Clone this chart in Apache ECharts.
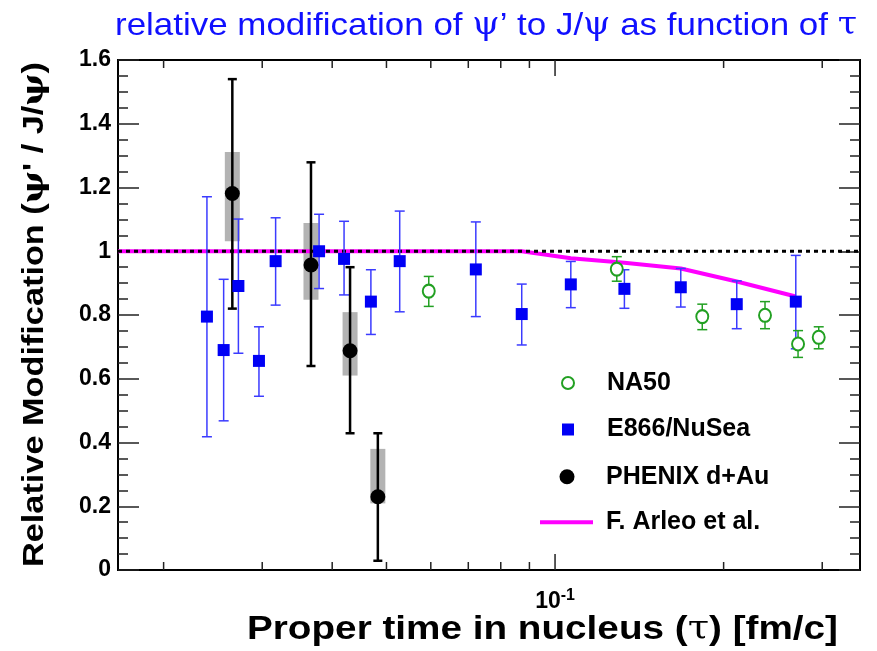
<!DOCTYPE html>
<html>
<head>
<meta charset="utf-8">
<script src="https://cdn.jsdelivr.net/npm/echarts@6/dist/echarts.min.js"></script>
<style>
  html, body { margin: 0; padding: 0; background: #fff; }
  #chart { width: 877px; height: 651px; }
</style>
</head>
<body>
<div id="chart"></div>
<script>
// Axis ranges
const TAU_MIN = 0.01658;
const TAU_MAX = 0.3504;
const RATIO_MIN = 0;
const RATIO_MAX = 1.6;

// Log-axis tick values (minor: 2..9 per decade, major: decades)
const xMinorTicks = [0.02, 0.03, 0.04, 0.05, 0.06, 0.07, 0.08, 0.09, 0.2, 0.3];
const xMajorTicks = [0.1];

// E866/NuSea
const e866Tau   = [0.0239, 0.0256, 0.0272, 0.0296, 0.0317, 0.0379, 0.0420, 0.0469, 0.0528, 0.0722, 0.0872, 0.1067, 0.1330, 0.1677, 0.2111, 0.2691];
const e866Ratio = [0.795, 0.690, 0.891, 0.656, 0.969, 1.000, 0.976, 0.842, 0.969, 0.943, 0.803, 0.896, 0.882, 0.887, 0.834, 0.842];
const e866Low   = [0.418, 0.468, 0.680, 0.545, 0.831, 0.883, 0.863, 0.739, 0.810, 0.795, 0.706, 0.823, 0.821, 0.825, 0.757, 0.694];
const e866High  = [1.171, 0.912, 1.101, 0.763, 1.105, 1.116, 1.094, 0.942, 1.126, 1.092, 0.897, 0.968, 0.942, 0.946, 0.907, 0.987];

// NA50
const na50Tau   = [0.0595, 0.1289, 0.1832, 0.2371, 0.2716, 0.2957];
const na50Ratio = [0.875, 0.944, 0.795, 0.799, 0.709, 0.730];
const na50Low   = [0.827, 0.906, 0.754, 0.757, 0.667, 0.694];
const na50High  = [0.921, 0.983, 0.834, 0.842, 0.751, 0.763];

// PHENIX d+Au (statistical bars + systematic boxes)
const phenixTau     = [0.02653, 0.03666, 0.04305, 0.04826];
const phenixRatio   = [1.181, 0.957, 0.688, 0.230];
const phenixLow     = [0.820, 0.640, 0.429, 0.029];
const phenixHigh    = [1.540, 1.279, 0.950, 0.429];
const phenixSysLow  = [1.031, 0.848, 0.610, 0.209];
const phenixSysHigh = [1.311, 1.089, 0.809, 0.380];

// F. Arleo et al. calculation
const arleoTau   = [0.01658, 0.0872, 0.1067, 0.1330, 0.1677, 0.2111, 0.2691];
const arleoRatio = [1.0, 1.0, 0.978, 0.964, 0.946, 0.905, 0.858];

// Unity reference line
const unityTau   = [TAU_MIN, TAU_MAX];
const unityRatio = [1, 1];

const zip = (...arrs) => arrs[0].map((_, i) => arrs.map(a => a[i]));

const GREEK = 'DejaVu Serif, Liberation Serif, serif';
const SANS = 'Liberation Sans, Arial, Helvetica, sans-serif';

// Measure a run of rich-text pieces so a label can be stretched to a given span
const measureCtx = document.createElement('canvas').getContext('2d');
function runWidth(pieces) {
  let w = 0;
  pieces.forEach(p => {
    measureCtx.font = (p.weight || 'normal') + ' ' + p.size + 'px ' + p.family;
    w += measureCtx.measureText(p.text).width;
  });
  return w;
}
function richText(pieces) {
  return pieces.map(p => '{' + p.style + '|' + p.text + '}').join('');
}

// Title
const TITLE_SIZE = 32;
const titlePieces = [
  { style: 't', text: 'relative modification of ', family: SANS, size: TITLE_SIZE },
  { style: 'g', text: 'ψ', family: GREEK, size: TITLE_SIZE },
  { style: 't', text: '’ to J/', family: SANS, size: TITLE_SIZE },
  { style: 'g', text: 'ψ', family: GREEK, size: TITLE_SIZE },
  { style: 't', text: ' as function of ', family: SANS, size: TITLE_SIZE },
  { style: 'g', text: 'τ', family: GREEK, size: TITLE_SIZE }
];
const titleScale = 742 / runWidth(titlePieces);

// Y axis title
const YT_SIZE = 30;
const yTitlePieces = [
  { style: 't', text: 'Relative Modification (', family: SANS, size: YT_SIZE, weight: 'bold' },
  { style: 'g', text: 'ψ', family: GREEK, size: YT_SIZE, weight: 'bold' },
  { style: 't', text: '\' / J/', family: SANS, size: YT_SIZE, weight: 'bold' },
  { style: 'g', text: 'ψ', family: GREEK, size: YT_SIZE, weight: 'bold' },
  { style: 't', text: ')', family: SANS, size: YT_SIZE, weight: 'bold' }
];
const yTitleScale = 505 / runWidth(yTitlePieces);

// X axis title
const XT_SIZE = 33;
const xTitlePieces = [
  { style: 't', text: 'Proper time in nucleus (', family: SANS, size: XT_SIZE, weight: 'bold' },
  { style: 'g', text: 'τ', family: GREEK, size: XT_SIZE },
  { style: 't', text: ') [fm/c]', family: SANS, size: XT_SIZE, weight: 'bold' }
];
const xTitleScale = 591 / runWidth(xTitlePieces);

function errorBarSeries(name, tau, low, high, color, width, capHalf, z) {
  return {
    type: 'custom',
    name: name + ' err',
    z: z,
    silent: true,
    clip: false,
    data: zip(tau, low, high),
    encode: { x: 0, y: [1, 2] },
    renderItem: function (params, api) {
      const x = api.value(0);
      const pLo = api.coord([x, api.value(1)]);
      const pHi = api.coord([x, api.value(2)]);
      const st = { stroke: color, lineWidth: width, fill: null };
      return {
        type: 'group',
        children: [
          { type: 'line', shape: { x1: pLo[0], y1: pLo[1], x2: pHi[0], y2: pHi[1] }, style: st },
          { type: 'line', shape: { x1: pLo[0] - capHalf, y1: pLo[1], x2: pLo[0] + capHalf, y2: pLo[1] }, style: st },
          { type: 'line', shape: { x1: pHi[0] - capHalf, y1: pHi[1], x2: pHi[0] + capHalf, y2: pHi[1] }, style: st }
        ]
      };
    }
  };
}

const legendText = {
  fontFamily: SANS, fontWeight: 'bold', fontSize: 25, color: '#000', lineHeight: 26
};

const chart = echarts.init(document.getElementById('chart'), null, { renderer: 'canvas' });

const option = {
  backgroundColor: '#ffffff',
  animation: false,
  grid: {
    left: 118, right: 17, top: 60, bottom: 81,
    show: true, borderColor: '#000', borderWidth: 2, backgroundColor: 'transparent'
  },
  legend: [
    {
      orient: 'vertical', left: 561, top: 370, padding: 0,
      itemWidth: 12, itemHeight: 12, itemGap: 20.5,
      data: [{ name: 'NA50', icon: 'emptyCircle' }, { name: 'E866/NuSea', icon: 'rect' }],
      textStyle: Object.assign({ padding: [0, 0, 0, 28] }, legendText),
      selectedMode: false
    },
    {
      orient: 'vertical', left: 559.5, top: 463.7, padding: 0,
      itemWidth: 15, itemHeight: 15,
      data: [{ name: 'PHENIX d+Au', icon: 'circle' }],
      textStyle: Object.assign({ padding: [0, 0, 0, 26.5] }, legendText),
      selectedMode: false
    },
    {
      orient: 'vertical', left: 540, top: 509.3, padding: 0,
      itemWidth: 53, itemHeight: 4,
      data: [{ name: 'F. Arleo et al.', icon: 'rect' }],
      textStyle: Object.assign({ padding: [0, 0, 0, 8] }, legendText),
      selectedMode: false
    }
  ],
  xAxis: {
    type: 'log',
    logBase: 10,
    min: TAU_MIN,
    max: TAU_MAX,
    axisLine: { show: false },
    axisTick: { show: false },
    splitLine: { show: false },
    axisLabel: {
      margin: 18,
      showMinLabel: true,
      showMaxLabel: true,
      formatter: function (v) {
        return Math.abs(Math.log10(v) + 1) < 1e-6 ? '{b|10}{s|-1}' : '';
      },
      rich: {
        b: { fontFamily: SANS, fontWeight: 'bold', fontSize: 23, color: '#000' },
        s: { fontFamily: SANS, fontWeight: 'bold', fontSize: 16, color: '#000', verticalAlign: 'top', padding: [0, 0, 11, 0] }
      }
    }
  },
  yAxis: [
    {
      type: 'value',
      min: RATIO_MIN, max: RATIO_MAX, interval: 0.2,
      axisLine: { show: false },
      splitLine: { show: false },
      axisTick: { show: true, inside: true, length: 21, lineStyle: { color: '#222', width: 1.5 } },
      minorTick: { show: true, splitNumber: 4, length: 10, lineStyle: { color: '#222', width: 1.5 } },
      minorSplitLine: { show: false },
      axisLabel: {
        margin: 7,
        fontFamily: SANS, fontWeight: 'bold', fontSize: 23, color: '#000',
        formatter: function (v) { return String(Math.round(v * 10) / 10); }
      }
    },
    {
      type: 'value',
      position: 'right',
      min: RATIO_MIN, max: RATIO_MAX, interval: 0.2,
      axisLine: { show: false },
      splitLine: { show: false },
      axisTick: { show: true, inside: true, length: 21, lineStyle: { color: '#222', width: 1.5 } },
      minorTick: { show: true, splitNumber: 4, length: 10, lineStyle: { color: '#222', width: 1.5 } },
      axisLabel: { show: false }
    }
  ],
  graphic: [
    {
      type: 'text',
      x: 115, y: 26,
      scaleX: titleScale,
      style: {
        text: richText(titlePieces),
        align: 'left', verticalAlign: 'middle',
        rich: {
          t: { fontFamily: SANS, fontWeight: 'normal', fontSize: TITLE_SIZE, fill: '#1010ff' },
          g: { fontFamily: GREEK, fontWeight: 'normal', fontSize: TITLE_SIZE, fill: '#1010ff' }
        }
      }
    },
    {
      type: 'text',
      x: 35, y: 314.5,
      rotation: Math.PI / 2,
      scaleX: yTitleScale,
      style: {
        text: richText(yTitlePieces),
        align: 'center', verticalAlign: 'middle',
        rich: {
          t: { fontFamily: SANS, fontWeight: 'bold', fontSize: YT_SIZE, fill: '#000' },
          g: { fontFamily: GREEK, fontWeight: 'bold', fontSize: YT_SIZE, fill: '#000' }
        }
      }
    },
    {
      type: 'text',
      x: 838, y: 630,
      scaleX: xTitleScale,
      style: {
        text: richText(xTitlePieces),
        align: 'right', verticalAlign: 'middle',
        rich: {
          t: { fontFamily: SANS, fontWeight: 'bold', fontSize: XT_SIZE, fill: '#000' },
          g: { fontFamily: GREEK, fontSize: XT_SIZE, fill: '#000' }
        }
      }
    }
  ],
  series: [
    // log-axis ticks along the bottom and top frame
    {
      type: 'custom',
      name: 'xticks',
      silent: true,
      clip: false,
      z: 1,
      data: xMinorTicks.map(v => [v, 0]).concat(xMajorTicks.map(v => [v, 1])),
      encode: { x: 0 },
      renderItem: function (params, api) {
        const v = api.value(0);
        const major = api.value(1) === 1;
        const len = major ? 16 : 8;
        const b = api.coord([v, RATIO_MIN]);
        const t = api.coord([v, RATIO_MAX]);
        const st = { stroke: '#222', lineWidth: 1.5 };
        return {
          type: 'group',
          children: [
            { type: 'line', shape: { x1: b[0], y1: b[1], x2: b[0], y2: b[1] - len }, style: st },
            { type: 'line', shape: { x1: t[0], y1: t[1], x2: t[0], y2: t[1] + len }, style: st }
          ]
        };
      }
    },
    // PHENIX systematic boxes
    {
      type: 'custom',
      name: 'PHENIX sys',
      silent: true,
      z: 2,
      data: zip(phenixTau, phenixSysLow, phenixSysHigh),
      encode: { x: 0, y: [1, 2] },
      renderItem: function (params, api) {
        const x = api.value(0);
        const lo = api.coord([x, api.value(1)]);
        const hi = api.coord([x, api.value(2)]);
        return {
          type: 'rect',
          shape: { x: lo[0] - 7.5, y: hi[1], width: 15, height: lo[1] - hi[1] },
          style: { fill: '#b3b3b3' }
        };
      }
    },
    {
      type: 'line',
      name: 'F. Arleo et al.',
      data: zip(arleoTau, arleoRatio),
      symbol: 'none',
      z: 3,
      lineStyle: { color: '#ff00ff', width: 4 },
      itemStyle: { color: '#ff00ff' }
    },
    {
      type: 'line',
      name: 'unity',
      data: zip(unityTau, unityRatio),
      symbol: 'none',
      silent: true,
      z: 4,
      lineStyle: { color: '#000', width: 3, type: [4, 4] }
    },
    errorBarSeries('E866/NuSea', e866Tau, e866Low, e866High, '#3b3bff', 1.5, 5, 5),
    errorBarSeries('NA50', na50Tau, na50Low, na50High, '#22a022', 1.5, 5, 5),
    errorBarSeries('PHENIX d+Au', phenixTau, phenixLow, phenixHigh, '#000', 2.5, 4.5, 6),
    {
      type: 'scatter',
      name: 'NA50',
      data: zip(na50Tau, na50Ratio),
      symbol: 'emptyCircle',
      symbolSize: [12, 13],
      z: 7,
      itemStyle: { color: '#22a022', borderWidth: 1.5, opacity: 1 }
    },
    {
      type: 'scatter',
      name: 'E866/NuSea',
      data: zip(e866Tau, e866Ratio),
      symbol: 'rect',
      symbolSize: 12,
      z: 7,
      itemStyle: { color: '#0000f5', opacity: 1 }
    },
    {
      type: 'scatter',
      name: 'PHENIX d+Au',
      data: zip(phenixTau, phenixRatio),
      symbol: 'circle',
      symbolSize: 15,
      z: 8,
      itemStyle: { color: '#000', opacity: 1 }
    }
  ]
};

chart.setOption(option);
</script>
</body>
</html>
